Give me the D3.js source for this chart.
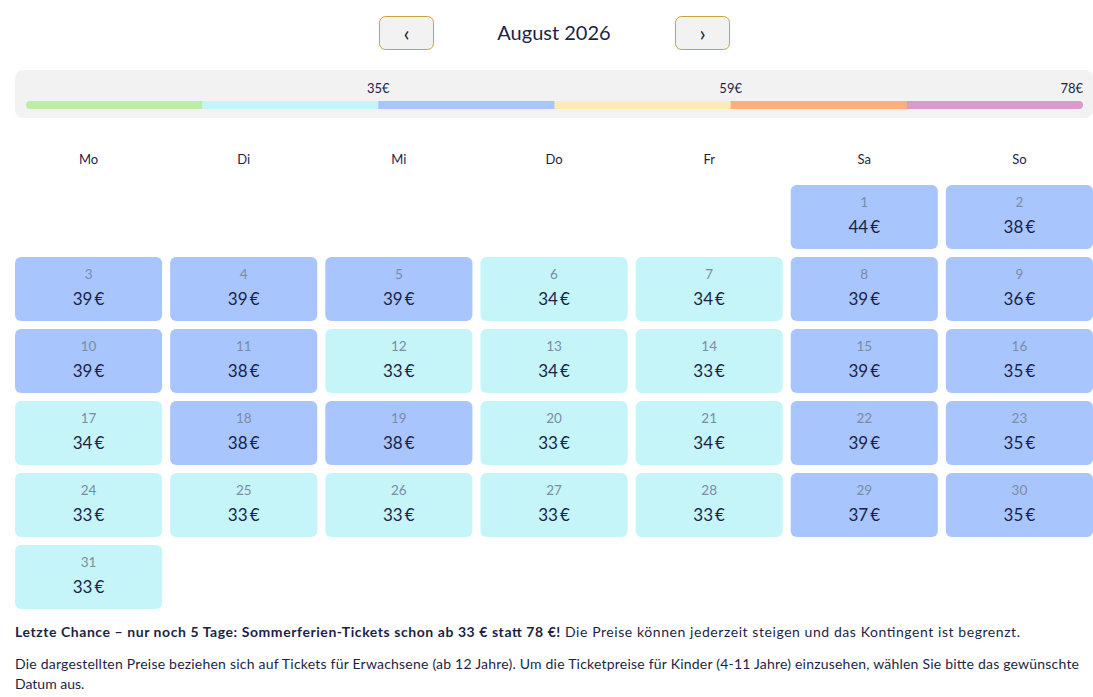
<!DOCTYPE html>
<html>
<head>
<meta charset="utf-8">
<script src="https://cdn.jsdelivr.net/npm/d3@7"></script>
<style>
  body { margin: 0; background: #fff; }
  svg { display: block; font-family: Lato, "Noto Sans", sans-serif; }
</style>
</head>
<body>
<div id="chart"></div>
<script>
// month + prices (EUR per day, August 2026)
var monthTitle = "August 2026";
var weekdays = ["Mo", "Di", "Mi", "Do", "Fr", "Sa", "So"];
var days = d3.range(1, 32);
var prices = [44, 38, 39, 39, 39, 34, 34, 39, 36, 39,
              38, 33, 34, 33, 39, 35, 34, 38, 38, 33,
              34, 39, 35, 33, 33, 33, 33, 33, 37, 35, 33];

// price tiers of the legend bar
var tierColors = ["#bdeca6", "#c5f5f9", "#a8c5fd", "#feebb5", "#fdb07b", "#d89ccc"];
var tierBreaks = [27, 35, 47, 59, 68];
var tierLabels = ["", "35€", "", "59€", "", "78€"];

var footBold = "Letzte Chance – nur noch 5 Tage: Sommerferien-Tickets schon ab 33 € statt 78 €!";
var footRest = " Die Preise können jederzeit steigen und das Kontingent ist begrenzt.";
var footLine2 = "Die dargestellten Preise beziehen sich auf Tickets für Erwachsene (ab 12 Jahre). Um die Ticketpreise für Kinder (4-11 Jahre) einzusehen, wählen Sie bitte das gewünschte";
var footLine3 = "Datum aus.";

var W = 1093, H = 697;
var ink = "#1c1f48";

var svg = d3.select("#chart").append("svg")
    .attr("width", W)
    .attr("height", H);

// ---- header with month navigation
var header = svg.append("g");
[{x: 379, t: "‹"}, {x: 675, t: "›"}].forEach(function (b) {
    header.append("rect")
        .attr("x", b.x + 0.5).attr("y", 16.5)
        .attr("width", 54).attr("height", 33)
        .attr("rx", 6)
        .attr("fill", "#f2f2f3")
        .attr("stroke", "#c8a536");
    header.append("text")
        .attr("x", b.x + 27.5).attr("y", 33)
        .attr("dy", "0.35em")
        .attr("text-anchor", "middle")
        .attr("font-size", 22)
        .attr("fill", ink)
        .text(b.t);
});
header.append("text")
    .attr("x", 554).attr("y", 33)
    .attr("dy", "0.36em")
    .attr("text-anchor", "middle")
    .attr("font-size", 20)
    .attr("fill", ink)
    .text(monthTitle);

// ---- legend bar
var legend = svg.append("g");
legend.append("rect")
    .attr("x", 15).attr("y", 70)
    .attr("width", 1078).attr("height", 48)
    .attr("rx", 8)
    .attr("fill", "#f2f2f2");

var segX = d3.scaleBand()
    .domain(d3.range(tierColors.length))
    .range([26, 1083]);

legend.append("clipPath").attr("id", "barclip")
    .append("rect")
    .attr("x", 26).attr("y", 101)
    .attr("width", 1083 - 26).attr("height", 8)
    .attr("rx", 4);

legend.append("g").attr("clip-path", "url(#barclip)")
    .selectAll("rect")
    .data(tierColors)
    .enter().append("rect")
    .attr("x", function (d, i) { return segX(i); })
    .attr("y", 101)
    .attr("width", segX.bandwidth() + 0.5)
    .attr("height", 8)
    .attr("fill", function (d) { return d; });

legend.selectAll("text.tier")
    .data(tierLabels)
    .enter().append("text")
    .attr("class", "tier")
    .attr("x", function (d, i) { return segX(i) + segX.bandwidth(); })
    .attr("y", 88)
    .attr("dy", "0.35em")
    .attr("text-anchor", function (d, i) { return i === tierLabels.length - 1 ? "end" : "middle"; })
    .attr("font-size", 13)
    .attr("fill", ink)
    .text(function (d) { return d; });

// ---- calendar grid
var color = d3.scaleThreshold()
    .domain(tierBreaks)
    .range(tierColors);

var first = new Date(2026, 7, 1);
var cells = days.map(function (d, i) {
    var date = new Date(2026, 7, d);
    return {
        day: d,
        price: prices[i],
        col: (date.getDay() + 6) % 7,
        row: d3.timeMonday.count(d3.timeMonday.floor(first), date)
    };
});

var nRows = d3.max(cells, function (c) { return c.row; }) + 1;

var xscale = d3.scaleBand()
    .domain(d3.range(7))
    .range([15, 1093])
    .paddingInner(8 / 155.14);

var yscale = d3.scaleBand()
    .domain(d3.range(nRows))
    .range([185, 185 + nRows * 72 - 8])
    .paddingInner(8 / 72);

svg.append("g").selectAll("text")
    .data(weekdays)
    .enter().append("text")
    .attr("x", function (d, i) { return xscale(i) + xscale.bandwidth() / 2; })
    .attr("y", 159)
    .attr("dy", "0.35em")
    .attr("text-anchor", "middle")
    .attr("font-size", 13)
    .attr("fill", ink)
    .text(function (d) { return d; });

var cell = svg.append("g").selectAll("g")
    .data(cells)
    .enter().append("g")
    .attr("transform", function (c) { return "translate(" + xscale(c.col) + "," + yscale(c.row) + ")"; });

cell.append("rect")
    .attr("width", xscale.bandwidth())
    .attr("height", yscale.bandwidth())
    .attr("rx", 6)
    .attr("fill", function (c) { return color(c.price); });

cell.append("text")
    .attr("x", xscale.bandwidth() / 2)
    .attr("y", 17)
    .attr("dy", "0.35em")
    .attr("text-anchor", "middle")
    .attr("font-size", 13.5)
    .attr("fill", "#7d8ba6")
    .text(function (c) { return c.day; });

cell.append("text")
    .attr("x", xscale.bandwidth() / 2)
    .attr("y", 42)
    .attr("dy", "0.35em")
    .attr("text-anchor", "middle")
    .attr("font-size", 17)
    .attr("fill", ink)
    .text(function (c) { return c.price + "\u2009€"; });

// ---- footer notes
var foot = svg.append("g").attr("font-size", 14).attr("fill", ink);
var l1 = foot.append("text").attr("x", 15).attr("y", 637)
    .attr("textLength", 1005).attr("lengthAdjust", "spacing");
l1.append("tspan").attr("font-weight", "bold").text(footBold);
l1.append("tspan").text(footRest);
foot.append("text").attr("x", 15).attr("y", 669)
    .attr("textLength", 1064).attr("lengthAdjust", "spacing")
    .text(footLine2);
foot.append("text").attr("x", 15).attr("y", 689).text(footLine3);
</script>
</body>
</html>
